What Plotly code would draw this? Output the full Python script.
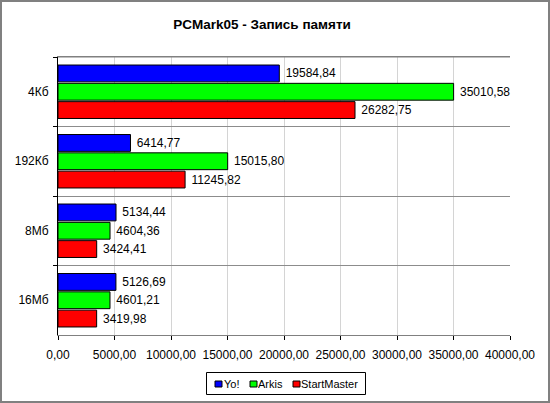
import plotly.graph_objects as go

categories = ["4Кб", "192Кб", "8Мб", "16Мб"]
series_names = ["Yo!", "Arkis", "StartMaster"]
yo = [19584.84, 6414.77, 5134.44, 5126.69]
arkis = [35010.58, 15015.80, 4604.36, 4601.21]
startmaster = [26282.75, 11245.82, 3424.41, 3419.98]
colors = ["#0000ff", "#00ff00", "#ff0000"]

W, H = 550, 403
ml, mr, mt, mb = 58, 40, 57, 68
pw = W - ml - mr
ph = H - mt - mb
FONT = "Liberation Sans, Arial"


def px(x):
    return (x - ml) / pw


def py(y):
    return 1 - (y - mt) / ph


fig = go.Figure()
for name, vals, col in zip(series_names, [yo, arkis, startmaster], colors):
    fig.add_trace(go.Bar(
        name=name, y=categories, x=vals, orientation="h",
        marker=dict(color=col, line=dict(color="#000000", width=1)),
        text=vals, texttemplate="\u00a0%{x:.2f}", textposition="outside",
        textfont=dict(family=FONT, size=12, color="#000000"),
        constraintext="none", cliponaxis=False, showlegend=False,
    ))

# manual compact legend (Excel style)
legend_x = [(215, 223), (250, 257), (293, 300)]
shapes = [
    dict(type="rect", xref="paper", yref="paper",
         x0=px(1), x1=px(W - 1), y0=py(H - 1), y1=py(1),
         line=dict(color="#808080", width=2), layer="below"),
    dict(type="line", xref="paper", yref="paper", x0=0, x1=1, y0=1, y1=1,
         line=dict(color="#808080", width=1)),
    dict(type="rect", xref="paper", yref="paper",
         x0=px(206.5), x1=px(365.5), y0=py(394.5), y1=py(372.5),
         line=dict(color="#000000", width=1), fillcolor="#ffffff"),
]
annotations = []
for (sx, tx), name, col in zip(legend_x, series_names, colors):
    shapes.append(dict(type="rect", xref="paper", yref="paper",
                       x0=px(sx), x1=px(sx + 7), y0=py(387), y1=py(381),
                       line=dict(color="#000000", width=1), fillcolor=col))
    annotations.append(dict(text=name, xref="paper", yref="paper",
                            x=px(tx), y=py(384), xanchor="left", yanchor="middle",
                            showarrow=False, xshift=-1,
                            font=dict(family=FONT, size=11, color="#000000")))

fig.update_layout(
    width=W, height=H,
    margin=dict(l=ml, r=mr, t=mt, b=mb, pad=0),
    paper_bgcolor="#ffffff", plot_bgcolor="#ffffff",
    separators=", ",
    font=dict(family=FONT, size=12, color="#000000"),
    title=dict(text="<b>PCMark05 - Запись памяти</b>", x=262 / W, xanchor="center",
               y=1 - 24 / H, yanchor="middle", yref="container",
               font=dict(size=13.5, color="#000000")),
    barmode="group", bargap=0.21, bargroupgap=0.08,
    showlegend=False,
    xaxis=dict(range=[0, 40000], dtick=5000, tickformat=".2f",
               showgrid=True, gridcolor="#d4d4d4", gridwidth=1,
               showline=True, linecolor="#808080", linewidth=1, mirror=True,
               ticks="outside", ticklen=4, tickcolor="#000000", zeroline=False,
               ticklabelstandoff=5, tickfont=dict(size=12), fixedrange=True),
    yaxis=dict(autorange="reversed", tickson="boundaries",
               showgrid=True, gridcolor="#8c8c8c", gridwidth=1,
               showline=True, linecolor="#000000", linewidth=1, mirror=False,
               ticks="outside", ticklen=4, tickcolor="#000000",
               ticklabelstandoff=6, tickfont=dict(size=12), fixedrange=True),
    shapes=shapes,
    annotations=annotations,
)
fig.write_html("out.html")
